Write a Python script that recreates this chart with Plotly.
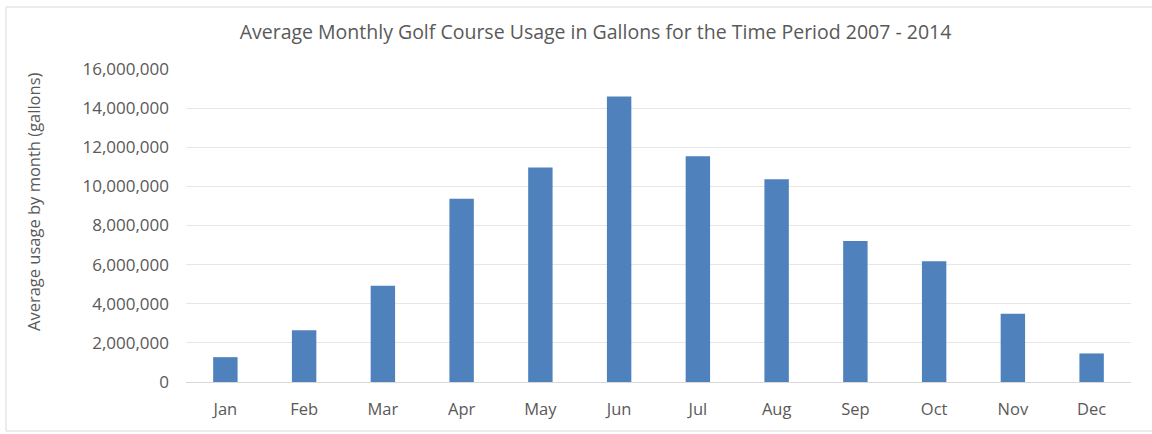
import plotly.graph_objects as go

# Average monthly golf course water usage, 2007 - 2014 (gallons)
months = ["Jan", "Feb", "Mar", "Apr", "May", "Jun",
          "Jul", "Aug", "Sep", "Oct", "Nov", "Dec"]
usage = [1270000, 2640000, 4920000, 9370000, 10960000, 14600000,
         11540000, 10360000, 7210000, 6170000, 3490000, 1460000]

y_ticks = [0, 2000000, 4000000, 6000000, 8000000,
           10000000, 12000000, 14000000, 16000000]
y_tick_labels = ["0", "2,000,000", "4,000,000", "6,000,000", "8,000,000",
                 "10,000,000", "12,000,000", "14,000,000", "16,000,000"]

W, H = 1152, 434
ML, MR, MT, MB = 186, 21, 69, 52
plot_w = W - ML - MR
plot_h = H - MT - MB


def px_to_paper_x(px):
    return (px - ML) / plot_w


def px_to_paper_y(py):
    return (H - MB - py) / plot_h


text_color = "#595959"
font_family = "Open Sans, Liberation Sans, sans-serif"

fig = go.Figure(
    go.Bar(
        x=months,
        y=usage,
        marker=dict(color="#4F81BD", line=dict(width=0)),
        width=0.31,
    )
)

fig.update_layout(
    width=W,
    height=H,
    margin=dict(l=ML, r=MR, t=MT, b=MB, pad=0),
    paper_bgcolor="white",
    plot_bgcolor="white",
    showlegend=False,
    font=dict(family=font_family, color=text_color, size=16),
    title=dict(
        text="Average Monthly Golf Course Usage in Gallons for the Time Period 2007 - 2014",
        x=595.5 / W,
        xanchor="center",
        y=1 - 32 / H,
        yanchor="middle",
        font=dict(size=19.5, color=text_color, family=font_family),
    ),
    xaxis=dict(
        showgrid=False,
        showline=True,
        linecolor="#d9d9d9",
        linewidth=1,
        ticks="",
        ticklabelstandoff=12,
        tickfont=dict(size=16.5, color=text_color),
    ),
    yaxis=dict(
        range=[0, 16000000],
        tickvals=y_ticks,
        ticktext=y_tick_labels,
        showgrid=True,
        gridcolor="#e6e6e6",
        gridwidth=1,
        zeroline=False,
        showline=False,
        ticks="",
        ticklabelstandoff=16,
        tickfont=dict(size=17, color=text_color),
    ),
    annotations=[
        dict(
            text="Average usage by month (gallons)",
            textangle=-90,
            xref="paper",
            yref="paper",
            x=px_to_paper_x(33),
            y=px_to_paper_y(202),
            xanchor="center",
            yanchor="middle",
            showarrow=False,
            font=dict(size=16.5, color=text_color, family=font_family),
        )
    ],
    shapes=[
        dict(
            type="rect",
            xref="paper",
            yref="paper",
            x0=px_to_paper_x(6),
            x1=px_to_paper_x(1175),
            y0=px_to_paper_y(431),
            y1=px_to_paper_y(7),
            line=dict(color="#d9d9d9", width=1),
            fillcolor="rgba(0,0,0,0)",
            layer="below",
        )
    ],
)

fig.write_html("out.html")
